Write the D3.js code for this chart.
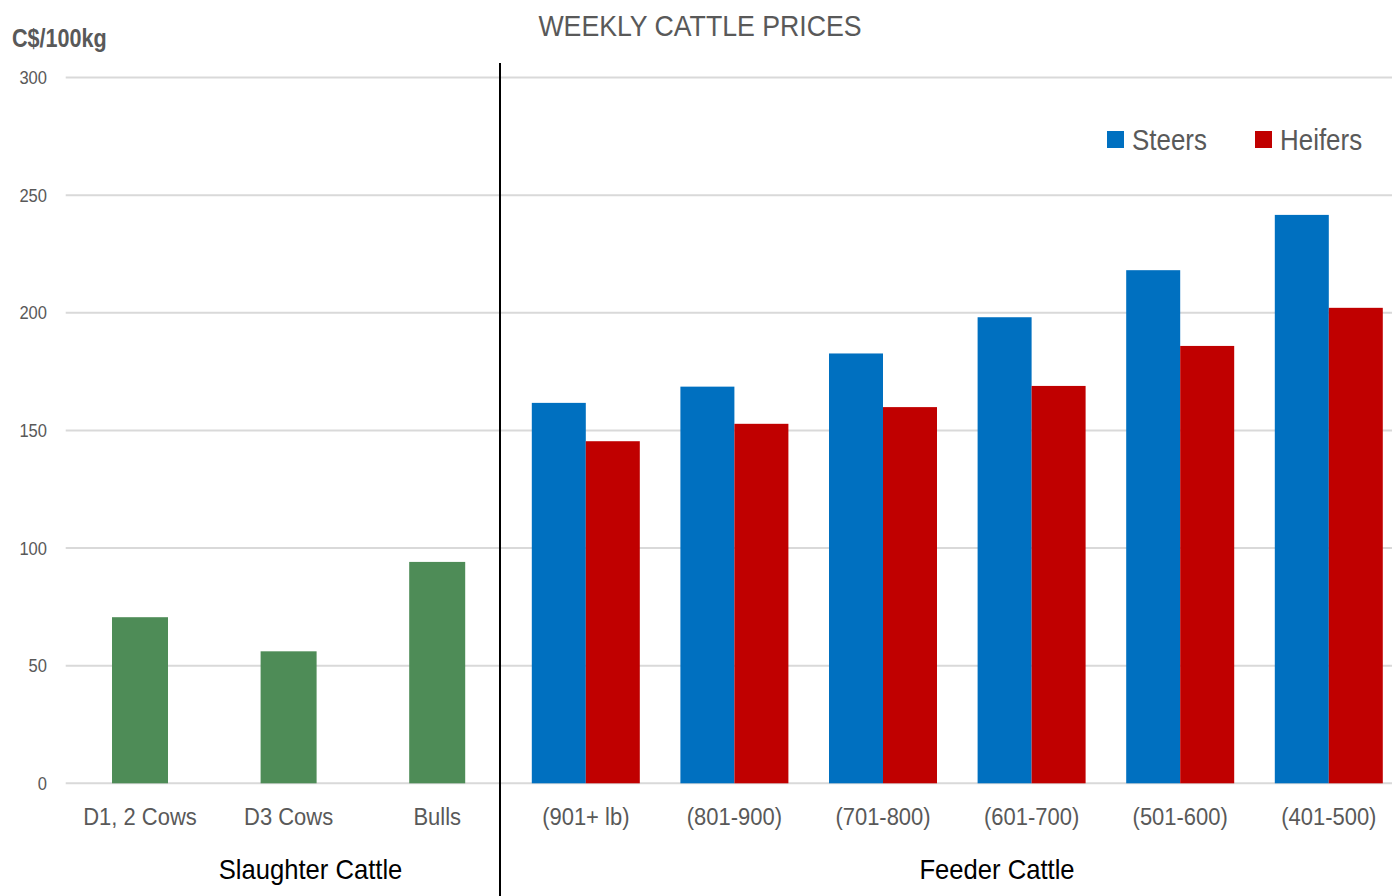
<!DOCTYPE html>
<html>
<head>
<meta charset="utf-8">
<script src="https://cdn.jsdelivr.net/npm/d3@7"></script>
<style>
  html, body { margin: 0; padding: 0; background: #fff; }
  svg { display: block; font-family: "Liberation Sans", Arial, sans-serif; }
</style>
</head>
<body>
<svg id="chart" width="1392" height="896"></svg>
<script>
const slaughterCategories = ["D1, 2 Cows", "D3 Cows", "Bulls"];
const slaughterValues = [70.6, 56.1, 94.1];
const feederCategories = ["(901+ lb)", "(801-900)", "(701-800)", "(601-700)", "(501-600)", "(401-500)"];
const steersValues = [161.7, 168.6, 182.7, 198.1, 218.1, 241.6];
const heifersValues = [145.4, 152.8, 159.9, 168.9, 185.9, 202.1];
const seriesNames = ["Steers", "Heifers"];
const yTicks = [0, 50, 100, 150, 200, 250, 300];
const groupLabels = ["Slaughter Cattle", "Feeder Cattle"];
const titleText = "WEEKLY CATTLE PRICES";
const unitText = "C$/100kg";

const colors = { slaughter: "#4e8c57", Steers: "#0070c0", Heifers: "#c00000" };
const textGray = "#595959";

const svg = d3.select("#chart");
const W = 1392, H = 896;
const left = 65.7, step = 148.6;
const allCats = slaughterCategories.concat(feederCategories);

const x = d3.scaleBand().domain(allCats).range([left, left + step * allCats.length]).padding(0);
const y = d3.scaleLinear().domain([0, 300]).range([783.3, 77.5]);

// helper: condensed text (narrow font emulation)
function ntext(sel, px, py, sx) {
  return sel.attr("transform", (d, i) => {
    const X = typeof px === "function" ? px(d, i) : px;
    const Y = typeof py === "function" ? py(d, i) : py;
    return `translate(${X},${Y}) scale(${sx},1)`;
  });
}

// gridlines
svg.append("g").selectAll("line").data(yTicks).join("line")
  .attr("x1", left).attr("x2", W)
  .attr("y1", d => y(d)).attr("y2", d => y(d))
  .attr("stroke", "#d9d9d9").attr("stroke-width", 2);

// y tick labels
ntext(svg.append("g").selectAll("text").data(yTicks).join("text"), 47, d => y(d) + 6.5, 0.92)
  .attr("text-anchor", "end").attr("fill", textGray)
  .style("font-size", "18px").text(d => d);

// slaughter bars
const greenW = 56;
svg.append("g").selectAll("rect").data(slaughterCategories).join("rect")
  .attr("x", d => x(d) + x.bandwidth() / 2 - greenW / 2)
  .attr("width", greenW)
  .attr("y", (d, i) => y(slaughterValues[i]))
  .attr("height", (d, i) => y(0) - y(slaughterValues[i]))
  .attr("fill", colors.slaughter);

// feeder bars
const pairW = 108;
const xs = d3.scaleBand().domain(seriesNames).range([0, pairW]);
const feederData = [];
feederCategories.forEach((c, i) => {
  feederData.push({ cat: c, s: "Steers", v: steersValues[i] });
  feederData.push({ cat: c, s: "Heifers", v: heifersValues[i] });
});
svg.append("g").selectAll("rect").data(feederData).join("rect")
  .attr("x", d => x(d.cat) + x.bandwidth() / 2 - pairW / 2 + xs(d.s))
  .attr("width", xs.bandwidth())
  .attr("y", d => y(d.v))
  .attr("height", d => y(0) - y(d.v))
  .attr("fill", d => colors[d.s]);

// category labels
ntext(svg.append("g").selectAll("text").data(allCats).join("text"), d => x(d) + x.bandwidth() / 2, 825, 0.915)
  .attr("text-anchor", "middle").attr("fill", textGray)
  .style("font-size", "24px").text(d => d);

// separator
const sepX = x(feederCategories[0]) - 11.5;
svg.append("line").attr("x1", sepX).attr("x2", sepX).attr("y1", 63).attr("y2", H)
  .attr("stroke", "#000").attr("stroke-width", 2);

// group labels
ntext(svg.append("text"), 310.5, 879, 0.915).attr("text-anchor", "middle")
  .attr("fill", "#000").style("font-size", "28px").text(groupLabels[0]);
ntext(svg.append("text"), 997, 879, 0.915).attr("text-anchor", "middle")
  .attr("fill", "#000").style("font-size", "28px").text(groupLabels[1]);

// title
ntext(svg.append("text"), 700, 36, 0.89).attr("text-anchor", "middle")
  .attr("fill", textGray).style("font-size", "30px").text(titleText);

// unit label
ntext(svg.append("text"), 12, 47, 0.83)
  .attr("fill", textGray).style("font-size", "26px").style("font-weight", "bold").text(unitText);

// legend
const legendPos = [{ n: "Steers", x: 1107 }, { n: "Heifers", x: 1255 }];
const lg = svg.append("g").selectAll("g").data(legendPos).join("g");
lg.append("rect").attr("x", d => d.x).attr("y", 131).attr("width", 17).attr("height", 17)
  .attr("fill", d => colors[d.n]);
ntext(lg.append("text"), d => d.x + 25, 150, 0.865)
  .attr("fill", textGray).style("font-size", "30px").text(d => d.n);
</script>
</body>
</html>
